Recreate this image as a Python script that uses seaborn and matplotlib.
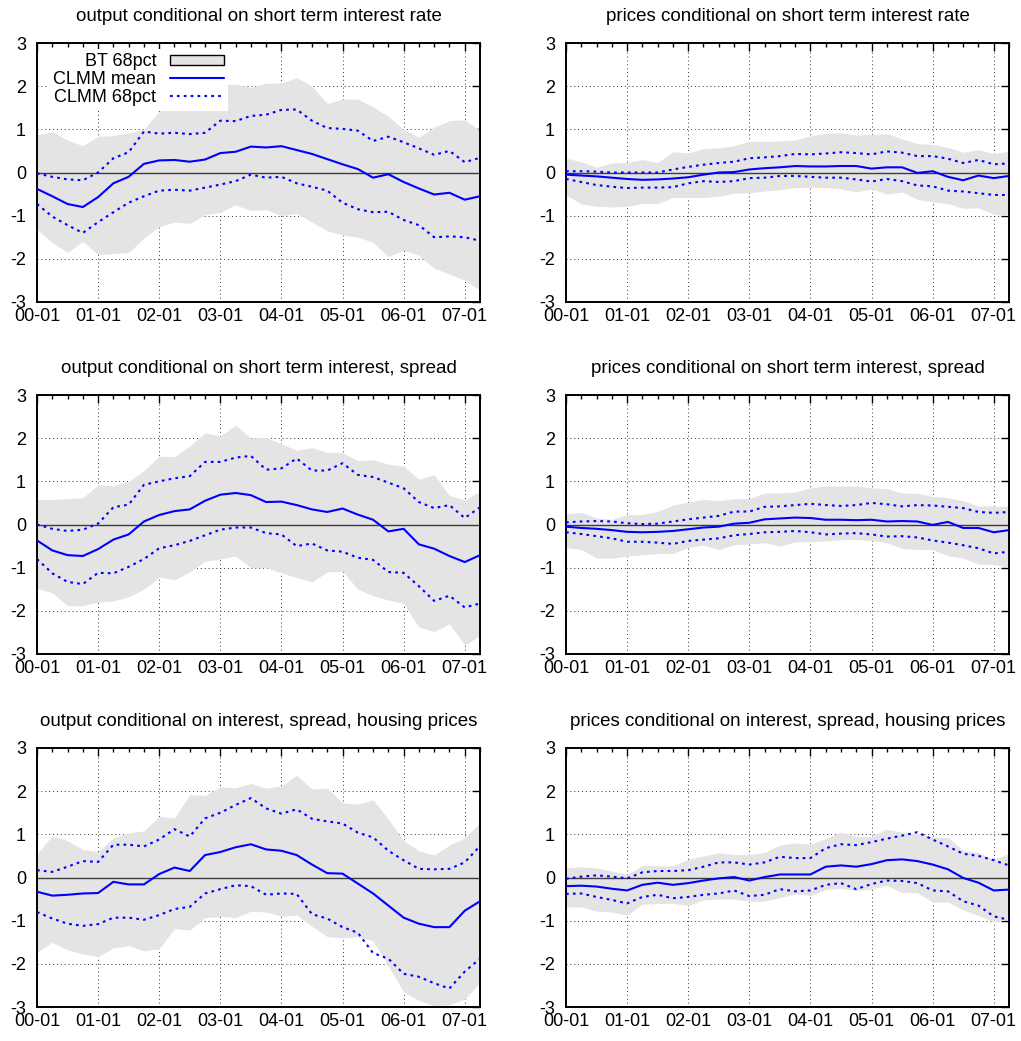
import matplotlib
matplotlib.use("Agg")
import matplotlib.pyplot as plt
from matplotlib.lines import Line2D
from matplotlib.patches import Patch
from matplotlib.ticker import MultipleLocator
import numpy as np
import pandas as pd
import seaborn as sns

# ====== CONFIG ======
OUTPUT_FILE = "out.png"
BLUE = "#0000ff"
BAND_GRAY = "#e4e4e4"
DOTTED = (0, (1.3, 2.0))
# ====================

# quarterly sample 2000Q1 .. 2007Q2
QUARTERS = pd.period_range("2000Q1", "2007Q2", freq="Q")
TICK_LABELS = ["00-01", "01-01", "02-01", "03-01", "04-01", "05-01", "06-01", "07-01"]

TITLES = [
    "output conditional on short term interest rate",
    "prices conditional on short term interest rate",
    "output conditional on short term interest, spread",
    "prices conditional on short term interest, spread",
    "output conditional on interest, spread, housing prices",
    "prices conditional on interest, spread, housing prices",
]

# --- output | short rate ---
OUT_RATE_MEAN = [-0.38, -0.55, -0.73, -0.80, -0.57, -0.25, -0.10, 0.20, 0.28, 0.29,
                 0.25, 0.30, 0.45, 0.48, 0.60, 0.58, 0.61, 0.52, 0.43, 0.31,
                 0.19, 0.08, -0.12, -0.04, -0.22, -0.37, -0.51, -0.47, -0.63, -0.55]
OUT_RATE_HI = [-0.02, -0.10, -0.16, -0.18, 0.00, 0.33, 0.47, 0.95, 0.90, 0.92,
               0.89, 0.92, 1.20, 1.19, 1.31, 1.34, 1.45, 1.46, 1.20, 1.03,
               1.01, 0.97, 0.73, 0.83, 0.70, 0.56, 0.41, 0.50, 0.24, 0.34]
OUT_RATE_LO = [-0.73, -1.02, -1.22, -1.40, -1.15, -0.92, -0.70, -0.55, -0.42, -0.40,
               -0.42, -0.35, -0.28, -0.20, -0.05, -0.12, -0.10, -0.25, -0.33, -0.42,
               -0.70, -0.85, -0.92, -0.91, -1.10, -1.22, -1.50, -1.48, -1.50, -1.58]
OUT_RATE_BT_HI = [0.87, 0.94, 0.75, 0.62, 0.84, 0.85, 0.92, 1.00, 1.42, 1.52,
                  1.66, 1.85, 2.03, 2.05, 1.97, 2.07, 2.07, 2.20, 2.00, 1.60,
                  1.70, 1.70, 1.52, 1.30, 1.00, 0.82, 1.05, 1.20, 1.22, 0.98]
OUT_RATE_BT_LO = [-1.32, -1.62, -1.85, -1.60, -1.90, -1.88, -1.85, -1.52, -1.25, -1.15,
                  -1.18, -0.98, -0.92, -0.75, -0.88, -0.86, -1.00, -0.95, -1.15, -1.35,
                  -1.45, -1.50, -1.62, -1.95, -1.80, -1.92, -2.22, -2.35, -2.50, -2.73]

# --- prices | short rate ---
PRI_RATE_MEAN = [-0.05, -0.07, -0.09, -0.12, -0.15, -0.17, -0.16, -0.14, -0.11, -0.05,
                 0.00, 0.01, 0.07, 0.10, 0.12, 0.15, 0.14, 0.14, 0.15, 0.15,
                 0.09, 0.12, 0.12, -0.01, 0.03, -0.10, -0.18, -0.07, -0.13, -0.08]
PRI_RATE_HI = [0.03, 0.03, 0.02, 0.00, 0.00, 0.00, 0.00, 0.07, 0.13, 0.18,
               0.22, 0.25, 0.33, 0.35, 0.38, 0.43, 0.42, 0.44, 0.47, 0.45,
               0.42, 0.49, 0.46, 0.38, 0.38, 0.32, 0.22, 0.29, 0.19, 0.21]
PRI_RATE_LO = [-0.15, -0.22, -0.29, -0.33, -0.36, -0.35, -0.35, -0.34, -0.25, -0.20,
               -0.22, -0.20, -0.13, -0.12, -0.08, -0.08, -0.10, -0.12, -0.12, -0.16,
               -0.21, -0.15, -0.20, -0.30, -0.32, -0.42, -0.44, -0.48, -0.52, -0.52]
PRI_RATE_BT_HI = [0.33, 0.25, 0.12, 0.22, 0.23, 0.30, 0.23, 0.48, 0.45, 0.55,
                  0.57, 0.62, 0.72, 0.72, 0.73, 0.75, 0.85, 0.91, 0.92, 0.87,
                  0.88, 0.90, 0.78, 0.67, 0.65, 0.58, 0.47, 0.53, 0.43, 0.50]
PRI_RATE_BT_LO = [-0.52, -0.73, -0.78, -0.80, -0.78, -0.72, -0.72, -0.58, -0.58, -0.58,
                  -0.55, -0.48, -0.47, -0.43, -0.40, -0.35, -0.35, -0.35, -0.38, -0.45,
                  -0.38, -0.50, -0.45, -0.62, -0.68, -0.72, -0.83, -0.82, -0.97, -1.00]

# --- output | short rate, spread ---
OUT_SPR_MEAN = [-0.37, -0.60, -0.71, -0.73, -0.57, -0.35, -0.23, 0.07, 0.22, 0.31,
                0.35, 0.55, 0.69, 0.73, 0.68, 0.52, 0.53, 0.45, 0.35, 0.29,
                0.37, 0.23, 0.11, -0.16, -0.10, -0.46, -0.56, -0.73, -0.87, -0.71]
OUT_SPR_HI = [0.00, -0.10, -0.15, -0.12, 0.02, 0.40, 0.46, 0.92, 1.00, 1.07,
              1.12, 1.45, 1.45, 1.55, 1.59, 1.27, 1.30, 1.53, 1.25, 1.25,
              1.42, 1.15, 1.10, 0.97, 0.84, 0.52, 0.38, 0.45, 0.15, 0.40]
OUT_SPR_LO = [-0.80, -1.13, -1.33, -1.38, -1.12, -1.13, -0.98, -0.80, -0.55, -0.48,
              -0.38, -0.25, -0.12, -0.07, -0.07, -0.20, -0.23, -0.50, -0.44, -0.60,
              -0.63, -0.77, -0.82, -1.10, -1.12, -1.43, -1.77, -1.65, -1.92, -1.83]
OUT_SPR_BT_HI = [0.58, 0.58, 0.60, 0.62, 0.92, 0.90, 1.00, 1.25, 1.58, 1.57,
                 1.82, 2.13, 2.05, 2.30, 2.00, 2.02, 1.87, 1.72, 1.78, 1.67,
                 1.67, 1.48, 1.50, 1.40, 1.35, 1.05, 1.15, 0.67, 0.57, 0.77]
OUT_SPR_BT_LO = [-1.48, -1.58, -1.88, -1.88, -1.80, -1.77, -1.67, -1.50, -1.22, -1.28,
                 -1.10, -0.85, -0.80, -0.73, -1.00, -1.00, -1.12, -1.23, -1.33, -1.10,
                 -1.08, -1.50, -1.65, -1.75, -1.83, -2.38, -2.48, -2.30, -2.80, -2.57]

# --- prices | short rate, spread ---
PRI_SPR_MEAN = [-0.05, -0.08, -0.10, -0.13, -0.17, -0.18, -0.17, -0.15, -0.11, -0.07,
                -0.05, 0.02, 0.04, 0.12, 0.14, 0.16, 0.15, 0.11, 0.11, 0.10,
                0.11, 0.07, 0.08, 0.07, -0.01, 0.06, -0.08, -0.08, -0.18, -0.13]
PRI_SPR_HI = [0.05, 0.07, 0.08, 0.07, 0.03, 0.01, 0.02, 0.07, 0.12, 0.16,
              0.20, 0.30, 0.30, 0.41, 0.42, 0.45, 0.48, 0.45, 0.43, 0.45,
              0.50, 0.47, 0.42, 0.45, 0.44, 0.41, 0.38, 0.29, 0.27, 0.29]
PRI_SPR_LO = [-0.18, -0.22, -0.27, -0.32, -0.40, -0.40, -0.42, -0.45, -0.38, -0.35,
              -0.32, -0.25, -0.22, -0.18, -0.17, -0.15, -0.18, -0.23, -0.21, -0.20,
              -0.23, -0.28, -0.27, -0.30, -0.37, -0.42, -0.48, -0.55, -0.67, -0.63]
PRI_SPR_BT_HI = [0.25, 0.28, 0.15, 0.12, 0.23, 0.23, 0.30, 0.45, 0.52, 0.58,
                 0.55, 0.60, 0.60, 0.73, 0.73, 0.75, 0.85, 0.89, 0.89, 0.89,
                 0.85, 0.83, 0.73, 0.72, 0.65, 0.62, 0.55, 0.43, 0.43, 0.42]
PRI_SPR_BT_LO = [-0.53, -0.58, -0.78, -0.78, -0.73, -0.70, -0.67, -0.67, -0.53, -0.48,
                 -0.58, -0.47, -0.45, -0.42, -0.50, -0.40, -0.40, -0.38, -0.35, -0.35,
                 -0.37, -0.42, -0.55, -0.58, -0.58, -0.72, -0.78, -0.92, -0.92, -1.00]

# --- output | interest, spread, housing prices ---
OUT_HOU_MEAN = [-0.33, -0.42, -0.40, -0.37, -0.36, -0.10, -0.16, -0.16, 0.08, 0.23,
                0.15, 0.52, 0.59, 0.70, 0.77, 0.65, 0.62, 0.52, 0.30, 0.10,
                0.09, -0.14, -0.37, -0.65, -0.93, -1.07, -1.15, -1.15, -0.77, -0.55]
OUT_HOU_HI = [0.17, 0.13, 0.25, 0.38, 0.36, 0.76, 0.76, 0.72, 0.88, 1.12,
              0.95, 1.37, 1.50, 1.68, 1.84, 1.60, 1.48, 1.58, 1.36, 1.30,
              1.25, 1.04, 0.93, 0.62, 0.40, 0.20, 0.19, 0.20, 0.35, 0.73]
OUT_HOU_LO = [-0.80, -0.95, -1.07, -1.12, -1.08, -0.93, -0.93, -0.98, -0.87, -0.73,
              -0.68, -0.37, -0.27, -0.18, -0.20, -0.40, -0.37, -0.38, -0.85, -0.95,
              -1.15, -1.28, -1.75, -1.88, -2.23, -2.30, -2.45, -2.57, -2.18, -1.88]
OUT_HOU_BT_HI = [0.55, 0.97, 0.85, 0.65, 0.60, 0.92, 1.03, 1.08, 1.42, 1.38,
                 1.92, 1.90, 2.10, 2.08, 2.18, 2.07, 2.12, 2.37, 2.05, 2.07,
                 1.73, 1.70, 1.80, 1.35, 0.85, 0.62, 0.52, 0.75, 0.92, 1.27]
OUT_HOU_BT_LO = [-1.73, -1.50, -1.68, -1.77, -1.83, -1.63, -1.58, -1.70, -1.65, -1.18,
                 -1.22, -0.93, -0.90, -0.93, -0.78, -0.80, -0.90, -0.87, -1.13, -1.37,
                 -1.40, -1.37, -1.47, -2.05, -2.65, -2.85, -2.97, -2.95, -2.82, -2.43]

# --- prices | interest, spread, housing prices ---
PRI_HOU_MEAN = [-0.20, -0.19, -0.21, -0.26, -0.30, -0.17, -0.12, -0.17, -0.13, -0.07,
                -0.02, 0.01, -0.07, 0.01, 0.07, 0.07, 0.07, 0.25, 0.28, 0.25,
                0.31, 0.40, 0.42, 0.38, 0.30, 0.19, -0.01, -0.12, -0.30, -0.28]
PRI_HOU_HI = [-0.03, 0.02, 0.05, 0.02, -0.02, 0.12, 0.15, 0.15, 0.17, 0.25,
              0.35, 0.35, 0.30, 0.35, 0.48, 0.45, 0.45, 0.68, 0.77, 0.75,
              0.82, 0.90, 0.97, 1.05, 0.88, 0.72, 0.55, 0.50, 0.40, 0.28]
PRI_HOU_LO = [-0.38, -0.37, -0.45, -0.52, -0.60, -0.45, -0.40, -0.48, -0.45, -0.40,
              -0.37, -0.30, -0.43, -0.40, -0.27, -0.32, -0.30, -0.17, -0.13, -0.27,
              -0.15, -0.07, -0.08, -0.13, -0.30, -0.32, -0.55, -0.65, -0.90, -0.98]
PRI_HOU_BT_HI = [0.22, 0.25, 0.22, 0.15, 0.07, 0.28, 0.27, 0.27, 0.42, 0.50,
                 0.57, 0.53, 0.53, 0.58, 0.75, 0.80, 0.77, 0.90, 1.05, 0.95,
                 0.95, 1.12, 1.05, 1.02, 0.93, 0.93, 0.63, 0.58, 0.42, 0.55]
PRI_HOU_BT_LO = [-0.68, -0.68, -0.78, -0.80, -0.87, -0.62, -0.60, -0.60, -0.65, -0.52,
                 -0.50, -0.50, -0.55, -0.55, -0.47, -0.38, -0.42, -0.28, -0.25, -0.30,
                 -0.27, -0.18, -0.35, -0.35, -0.57, -0.57, -0.75, -0.88, -1.03, -0.97]

PANELS = [
    (OUT_RATE_MEAN, OUT_RATE_LO, OUT_RATE_HI, OUT_RATE_BT_LO, OUT_RATE_BT_HI),
    (PRI_RATE_MEAN, PRI_RATE_LO, PRI_RATE_HI, PRI_RATE_BT_LO, PRI_RATE_BT_HI),
    (OUT_SPR_MEAN, OUT_SPR_LO, OUT_SPR_HI, OUT_SPR_BT_LO, OUT_SPR_BT_HI),
    (PRI_SPR_MEAN, PRI_SPR_LO, PRI_SPR_HI, PRI_SPR_BT_LO, PRI_SPR_BT_HI),
    (OUT_HOU_MEAN, OUT_HOU_LO, OUT_HOU_HI, OUT_HOU_BT_LO, OUT_HOU_BT_HI),
    (PRI_HOU_MEAN, PRI_HOU_LO, PRI_HOU_HI, PRI_HOU_BT_LO, PRI_HOU_BT_HI),
]

# axes boxes in figure fractions (figure is 1021 x 1041 px)
COL_LEFT = [37 / 1021, 566 / 1021]
ROW_BOTTOM = [(1041 - 302) / 1041, (1041 - 654) / 1041, (1041 - 1007) / 1041]
AX_W = 443 / 1021
AX_H = 259 / 1041


def make_frame(panel):
    mean, lo, hi, bt_lo, bt_hi = panel
    return pd.DataFrame({
        "q": np.arange(len(QUARTERS)),
        "mean": mean, "lo": lo, "hi": hi, "bt_lo": bt_lo, "bt_hi": bt_hi,
    })


def draw_panel(ax, df, title):
    ax.fill_between(df["q"], df["bt_lo"], df["bt_hi"], color=BAND_GRAY, lw=0, zorder=1)
    ax.axhline(0, color="#3c3c3c", lw=1.0, zorder=1.5)
    sns.lineplot(data=df, x="q", y="mean", ax=ax, color=BLUE, lw=1.5, zorder=3)
    sns.lineplot(data=df, x="q", y="hi", ax=ax, color=BLUE, lw=1.5, linestyle=DOTTED, zorder=3)
    sns.lineplot(data=df, x="q", y="lo", ax=ax, color=BLUE, lw=1.5, linestyle=DOTTED, zorder=3)

    ax.set_xlim(0, len(QUARTERS) - 1)
    ax.set_ylim(-3, 3)
    ax.xaxis.set_minor_locator(MultipleLocator(1))
    ax.set_xticks(range(0, 29, 4))
    ax.set_xticklabels(TICK_LABELS)
    ax.set_yticks(range(-3, 4))
    ax.set_yticklabels([str(v) for v in range(-3, 4)])
    ax.set_xlabel("")
    ax.set_ylabel("")

    ax.set_axisbelow(True)
    ax.grid(True, which="major", color="#333333", lw=0.7, linestyle=(0, (1, 3)))
    ax.tick_params(which="both", direction="in", top=True, right=True,
                   color="black", labelcolor="black")
    ax.tick_params(which="major", length=6, width=1.0)
    ax.tick_params(which="minor", length=3, width=1.0)
    ax.tick_params(axis="x", pad=4, labelsize=13)
    ax.tick_params(axis="y", pad=8, labelsize=13)
    for sp in ax.spines.values():
        sp.set_visible(True)
        sp.set_color("black")
        sp.set_linewidth(1.4)
    ax.set_title(title, fontsize=13.5, pad=16, color="black")


def main():
    sns.set_theme(style="white")
    plt.rcParams["font.family"] = ["Liberation Sans", "DejaVu Sans"]
    plt.rcParams["text.color"] = "black"

    fig = plt.figure(figsize=(10.21, 10.41), dpi=100)
    for k, (panel, title) in enumerate(zip(PANELS, TITLES)):
        row, col = divmod(k, 2)
        ax = fig.add_axes([COL_LEFT[col], ROW_BOTTOM[row], AX_W, AX_H])
        draw_panel(ax, make_frame(panel), title)

        if k == 0:
            handles = [
                Patch(facecolor=BAND_GRAY, edgecolor="black", lw=1.0),
                Line2D([], [], color=BLUE, lw=1.5),
                Line2D([], [], color=BLUE, lw=1.5, linestyle=DOTTED),
            ]
            leg = ax.legend(handles, ["BT 68pct", "CLMM mean", "CLMM 68pct"],
                            loc="upper right", bbox_to_anchor=(0.432, 0.978),
                            borderaxespad=0, borderpad=0.25, markerfirst=False,
                            handlelength=3.0, handleheight=0.45, handletextpad=0.75,
                            labelspacing=0.05, fontsize=13, frameon=True,
                            fancybox=False, framealpha=1.0)
            leg.get_frame().set_facecolor("white")
            leg.get_frame().set_edgecolor("none")
            for txt in leg.get_texts():
                txt.set_color("black")

    fig.savefig(OUTPUT_FILE, dpi=100)
    plt.close(fig)


if __name__ == "__main__":
    main()
